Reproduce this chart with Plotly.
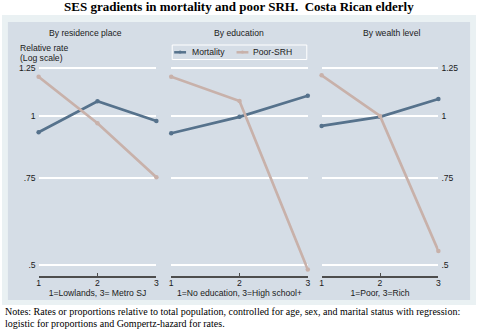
import plotly.graph_objects as go

W, H = 479, 333

x_vals = [1, 2, 3]
panel_titles = ["By residence place", "By education", "By wealth level"]
x_titles = ["1=Lowlands, 3= Metro SJ", "1=No education, 3=High school+", "1=Poor, 3=Rich"]
series_names = ["Mortality", "Poor-SRH"]
mortality = [
    [0.927, 1.071, 0.977],
    [0.923, 0.996, 1.099],
    [0.955, 0.996, 1.082],
]
poor_srh = [
    [1.20, 0.967, 0.752],
    [1.20, 1.072, 0.49],
    [1.208, 1.0, 0.534],
]
y_tickvals = [0.5, 0.75, 1, 1.25]
y_ticktext = [".5", ".75", "1", "1.25"]

MORT_COLOR = "#56728c"
SRH_COLOR = "#c8b1aa"
PANEL_BG = "#d5dde6"
OUTER_BG = "#eaf1f3"
TXT = "#1a1a1a"
SANS = "Liberation Sans, Arial, sans-serif"
SERIF = "Liberation Serif, Times New Roman, serif"
FS = 8.6


def px_x(p):
    return p / W


def px_y(p):
    return 1 - p / H


x_domains_px = [(37, 156), (171, 309), (323, 441)]
y_dom = [px_y(276), px_y(60)]
y_range = [-0.323, 0.113]

fig = go.Figure()

for i in range(3):
    xa = "x" if i == 0 else f"x{i+1}"
    ya = "y" if i == 0 else f"y{i+1}"
    fig.add_trace(go.Scatter(
        x=x_vals, y=mortality[i], mode="lines+markers", name=series_names[0],
        line=dict(color=MORT_COLOR, width=2.7), marker=dict(size=4.5, color=MORT_COLOR),
        xaxis=xa, yaxis=ya, showlegend=False, cliponaxis=False,
    ))
    fig.add_trace(go.Scatter(
        x=x_vals, y=poor_srh[i], mode="lines+markers", name=series_names[1],
        line=dict(color=SRH_COLOR, width=2.7), marker=dict(size=4.5, color=SRH_COLOR),
        xaxis=xa, yaxis=ya, showlegend=False, cliponaxis=False,
    ))

layout = dict(
    width=W, height=H,
    margin=dict(l=0, r=0, t=0, b=0),
    paper_bgcolor="white",
    plot_bgcolor="rgba(0,0,0,0)",
    font=dict(family=SANS, size=FS, color=TXT),
    showlegend=False,
)

for i in range(3):
    xk = "xaxis" if i == 0 else f"xaxis{i+1}"
    yk = "yaxis" if i == 0 else f"yaxis{i+1}"
    ya = "y" if i == 0 else f"y{i+1}"
    xa = "x" if i == 0 else f"x{i+1}"
    d0, d1 = x_domains_px[i]
    layout[xk] = dict(
        domain=[px_x(d0), px_x(d1)], range=[1, 3], anchor=ya,
        tickvals=x_vals, ticktext=[str(v) for v in x_vals],
        showline=True, linecolor="#4d4d4d", linewidth=2,
        ticks="inside", ticklen=3, tickcolor="#4d4d4d", tickwidth=1,
        ticklabelstandoff=-2,
        showgrid=False, zeroline=False,
        tickfont=dict(size=FS, color=TXT),
        title=dict(text=x_titles[i], font=dict(size=FS, color=TXT), standoff=0),
    )
    ydict = dict(
        domain=y_dom, type="log", range=y_range, anchor=xa,
        tickvals=y_tickvals, ticktext=y_ticktext,
        showgrid=True, gridcolor="white", gridwidth=1.5,
        zeroline=False, showline=False, ticks="",
        tickfont=dict(size=FS, color=TXT),
    )
    if i == 0:
        ydict["side"] = "left"
        ydict["ticklabelstandoff"] = 2
    elif i == 2:
        ydict["side"] = "right"
        ydict["ticklabelstandoff"] = 2
    else:
        ydict["showticklabels"] = False
    layout[yk] = ydict

shapes = [
    dict(type="rect", xref="paper", yref="paper", x0=0, x1=1, y0=px_y(305), y1=px_y(15),
         fillcolor=OUTER_BG, line=dict(width=0), layer="below"),
    dict(type="rect", xref="paper", yref="paper", x0=px_x(6), x1=px_x(473), y0=px_y(300), y1=px_y(22),
         fillcolor=PANEL_BG, line=dict(width=0), layer="below"),
    # legend box
    dict(type="rect", xref="paper", yref="paper", x0=px_x(172), x1=px_x(308), y0=px_y(59.5), y1=px_y(45),
         fillcolor=PANEL_BG, line=dict(width=1, color="white"), layer="above"),
]
ann = []
legend_items = [(174, 186, 190, MORT_COLOR, series_names[0]), (237, 249, 252, SRH_COLOR, series_names[1])]
for sx0, sx1, tx, col, name in legend_items:
    shapes.append(dict(type="line", xref="paper", yref="paper", x0=px_x(sx0), x1=px_x(sx1),
                       y0=px_y(52.3), y1=px_y(52.3), line=dict(color=col, width=2.5), layer="above"))
    shapes.append(dict(type="circle", xref="paper", yref="paper", x0=px_x((sx0 + sx1) / 2 - 1.6),
                       x1=px_x((sx0 + sx1) / 2 + 1.6), y0=px_y(53.6), y1=px_y(50.6),
                       fillcolor=col, line=dict(width=0), layer="above"))
    ann.append(dict(text=name, x=px_x(tx), y=px_y(52.5), xref="paper", yref="paper", showarrow=False,
                    xanchor="left", yanchor="middle", font=dict(family=SANS, size=FS, color=TXT)))
layout["shapes"] = shapes

ann.append(dict(text="<b>SES gradients in mortality and poor SRH.\u00a0 Costa Rican elderly</b>",
                x=px_x(239), y=px_y(7), xref="paper", yref="paper", showarrow=False,
                xanchor="center", yanchor="middle", font=dict(family=SERIF, size=13, color="black")))
for cx, t in zip([84, 239, 394], panel_titles):
    ann.append(dict(text=t, x=px_x(cx), y=px_y(33), xref="paper", yref="paper", showarrow=False,
                    xanchor="center", yanchor="middle", font=dict(family=SANS, size=FS, color=TXT)))
ann.append(dict(text="Relative rate", x=px_x(16.5), y=px_y(48), xref="paper", yref="paper", showarrow=False,
                xanchor="left", yanchor="middle", font=dict(family=SANS, size=FS, color=TXT)))
ann.append(dict(text="(Log scale)", x=px_x(16.5), y=px_y(58), xref="paper", yref="paper", showarrow=False,
                xanchor="left", yanchor="middle", font=dict(family=SANS, size=FS, color=TXT)))
ann.append(dict(text="Notes: Rates or proportions relative to total population, controlled for age, sex, and marital status with regression:",
                x=px_x(1), y=px_y(311), xref="paper", yref="paper", showarrow=False,
                xanchor="left", yanchor="middle", font=dict(family=SERIF, size=10, color="black")))
ann.append(dict(text="logistic for proportions and Gompertz-hazard for rates.",
                x=px_x(1), y=px_y(323), xref="paper", yref="paper", showarrow=False,
                xanchor="left", yanchor="middle", font=dict(family=SERIF, size=10, color="black")))
layout["annotations"] = ann

fig.update_layout(**layout)
fig.write_html("out.html",
               config={"displayModeBar": False},
               post_script="document.body.style.margin='0';document.body.style.padding='0';document.body.style.overflow='hidden';")
